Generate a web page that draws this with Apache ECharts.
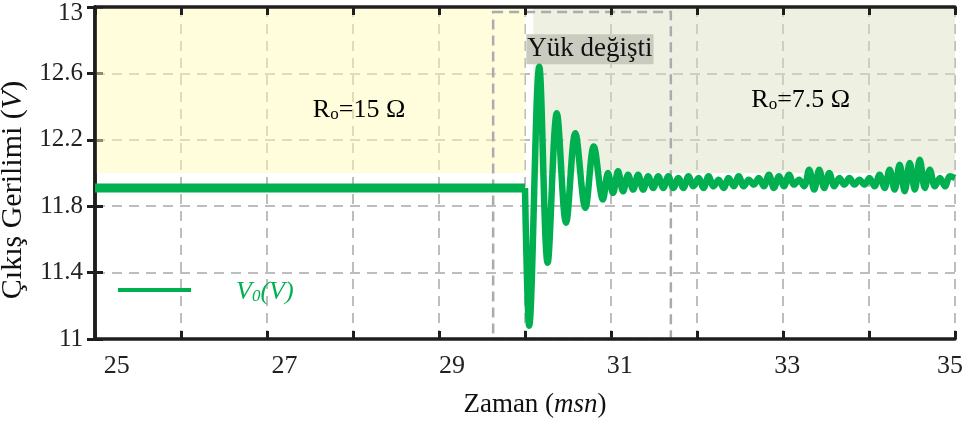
<!DOCTYPE html>
<html>
<head>
<meta charset="utf-8">
<script src="https://cdn.jsdelivr.net/npm/echarts@6.0.0/dist/echarts.min.js"></script>
<style>html,body{margin:0;padding:0;background:#fff}#c{width:963px;height:425px}</style>
</head>
<body>
<div id="c"></div>
<script>
// ---- data ----
const preTime = [24.74, 29.87];
const preVolt = [11.91, 11.91];

const postTime = [29.87, 29.92, 30.04, 30.14, 30.25, 30.36, 30.47, 30.59, 30.69, 30.80,
  30.86, 30.92, 30.98, 31.04, 31.10, 31.16, 31.22, 31.28, 31.34, 31.40,
  31.46, 31.52, 31.58, 31.64, 31.70, 31.76, 31.82, 31.88, 31.94, 32.00,
  32.06, 32.12, 32.18, 32.24, 32.30, 32.36, 32.42, 32.48, 32.54, 32.60,
  32.66, 32.72, 32.78, 32.84, 32.90, 32.96, 33.02, 33.08, 33.14, 33.20,
  33.26, 33.32, 33.38, 33.44, 33.50, 33.56, 33.62, 33.68, 33.74, 33.80,
  33.86, 33.92, 33.98, 34.04, 34.10, 34.16, 34.22, 34.28, 34.34, 34.40,
  34.46, 34.52, 34.58, 34.64, 34.70, 34.76, 34.82, 34.88, 34.94, 35.00];
const postVolt = [11.91, 11.08, 12.64, 11.46, 12.36, 11.70, 12.24, 11.79, 12.16, 11.84,
  12.00, 11.88, 12.01, 11.89, 11.99, 11.90, 11.99, 11.90, 11.98, 11.91,
  11.98, 11.91, 11.98, 11.91, 11.97, 11.91, 11.98, 11.92, 11.97, 11.91,
  11.98, 11.92, 11.96, 11.91, 11.97, 11.92, 11.98, 11.92, 11.96, 11.93,
  11.97, 11.92, 11.99, 11.91, 11.98, 11.92, 11.99, 11.93, 11.96, 11.92,
  12.02, 11.90, 12.02, 11.91, 12.00, 11.92, 11.97, 11.93, 11.97, 11.93,
  11.96, 11.93, 11.97, 11.92, 11.99, 11.91, 12.02, 11.90, 12.05, 11.89,
  12.06, 11.90, 12.08, 11.91, 12.02, 11.92, 11.97, 11.92, 11.98, 11.97];

const xTickLabels = [25, 27, 29, 31, 33, 35];
const xRange = [24.74, 35];
const yRange = [11, 13];
const yInterval = 0.4;
const gridDivisions = [0, 10]; // 10 equal grid divisions across the plot

// regions / annotations (data coordinates)
const region15 = [[24.74, 12.0], [29.87, 13]];
const region75 = [[29.97, 12.0], [35, 13]];
const zoomBox = [[29.49, 12.97], [31.61, 11]];
const labelR15 = [27.89, 12.39];
const labelR75 = [33.16, 12.45];
const labelYuk = [30.645, 12.745];

const zip = (a, b) => a.map((v, i) => [v, b[i]]);
const FONT = "'Liberation Serif', 'Times New Roman', serif";
const GREEN = '#00B050';
const FRAME = '#1e1e1e';

const chart = echarts.init(document.getElementById('c'), null, {renderer: 'canvas'});

const subRich = {
  r: {fontFamily: FONT, fontSize: 26, color: '#000', lineHeight: 30, verticalAlign: 'bottom'},
  s: {fontFamily: FONT, fontSize: 17, color: '#000', lineHeight: 8, verticalAlign: 'bottom'}
};

const option = {
  animation: false,
  backgroundColor: '#fff',
  grid: {left: 95, right: 8, top: 7, bottom: 86, containLabel: false, outerBoundsMode: 'none'},
  legend: {
    data: ['V0(V)'],
    left: 113, top: 274,
    icon: 'rect', itemWidth: 73, itemHeight: 4,
    selectedMode: false,
    formatter: () => '{g|}{i|V}{s|0}{i|(V)}',
    textStyle: {
      color: GREEN,
      rich: {
        g: {width: 40},
        i: {fontFamily: FONT, fontStyle: 'italic', fontSize: 26, color: GREEN, lineHeight: 30, verticalAlign: 'bottom'},
        s: {fontFamily: FONT, fontStyle: 'italic', fontSize: 17, color: GREEN, lineHeight: 14, verticalAlign: 'bottom'}
      }
    }
  },
  xAxis: [
    {
      type: 'value', min: xRange[0], max: xRange[1], position: 'bottom', z: 5,
      axisLine: {show: true, lineStyle: {color: FRAME, width: 3.5}},
      axisTick: {show: false},
      splitLine: {show: false},
      axisLabel: {
        customValues: xTickLabels, fontFamily: FONT, fontSize: 26, color: '#222', margin: 14,
        formatter: v => (v === xRange[1] ? '{e|' + v + '}' : String(v)),
        rich: {e: {fontFamily: FONT, fontSize: 26, color: '#222', padding: [0, 10, 0, 0]}}
      },
      name: '{n|Zaman (}{i|msn}{n|)}', nameLocation: 'middle', nameGap: 52,
      nameTextStyle: {
        padding: [0, 0, 0, 20],
        rich: {
          n: {fontFamily: FONT, fontSize: 27, color: '#111'},
          i: {fontFamily: FONT, fontSize: 27, color: '#111', fontStyle: 'italic'}
        }
      }
    },
    {
      type: 'value', min: gridDivisions[0], max: gridDivisions[1], interval: 1, position: 'bottom', z: 0,
      axisLine: {show: false},
      axisTick: {show: true, inside: true, length: 8, lineStyle: {color: FRAME, width: 3}},
      axisLabel: {show: false},
      splitLine: {show: true, lineStyle: {color: '#BDBDBD', width: 2, type: [10, 7]}}
    },
    {
      type: 'value', min: gridDivisions[0], max: gridDivisions[1], interval: 1, position: 'top', z: 5,
      axisLine: {show: true, lineStyle: {color: FRAME, width: 3.5}},
      axisTick: {show: true, inside: true, length: 8, lineStyle: {color: FRAME, width: 3}},
      axisLabel: {show: false},
      splitLine: {show: false}
    }
  ],
  yAxis: [
    {
      type: 'value', min: yRange[0], max: yRange[1], interval: yInterval, position: 'left', z: 0,
      axisLine: {show: true, lineStyle: {color: FRAME, width: 3.5}},
      axisTick: {show: true, inside: true, length: 8, lineStyle: {color: FRAME, width: 3}},
      axisLabel: {
        fontFamily: FONT, fontSize: 25, color: '#222', margin: 12,
        formatter: v => {
          const s = String(Math.round(v * 10) / 10);
          return v >= yRange[1] ? '{t|' + s + '}' : s;
        },
        rich: {t: {fontFamily: FONT, fontSize: 25, color: '#222', padding: [12, 0, 0, 0]}}
      },
      splitLine: {show: true, lineStyle: {color: '#BDBDBD', width: 2, type: [10, 7]}},
      name: '{n|Çıkış Gerilimi (}{i|V}{n|)}', nameLocation: 'middle', nameGap: 60, nameRotate: 90,
      nameTextStyle: {
        padding: [0, 34, 0, 0],
        rich: {
          n: {fontFamily: FONT, fontSize: 30, color: '#111'},
          i: {fontFamily: FONT, fontSize: 30, color: '#111', fontStyle: 'italic'}
        }
      }
    },
    {
      type: 'value', min: yRange[0], max: yRange[1], interval: yInterval, position: 'right', z: 5,
      axisLine: {show: true, lineStyle: {color: FRAME, width: 3.5}},
      axisTick: {show: true, inside: true, length: 8, lineStyle: {color: FRAME, width: 3}},
      axisLabel: {show: false},
      splitLine: {show: false}
    }
  ],
  series: [
    {
      name: 'bg', type: 'line', data: [], z: 1, silent: true,
      markArea: {
        silent: true,
        data: [
          [{coord: region15[0], itemStyle: {color: 'rgba(255,251,185,0.5)'}}, {coord: region15[1]}],
          [{coord: region75[0], itemStyle: {color: 'rgba(221,227,197,0.5)'}}, {coord: region75[1]}]
        ]
      }
    },
    {
      name: 'box', type: 'line', data: [], z: 3, silent: true,
      markArea: {
        silent: true,
        itemStyle: {color: 'rgba(0,0,0,0)', borderColor: '#ABABAB', borderWidth: 2.5, borderType: [10, 6]},
        data: [[{coord: zoomBox[0]}, {coord: zoomBox[1]}]]
      }
    },
    {
      name: 'V0(V)', type: 'line', data: zip(preTime, preVolt), z: 5,
      showSymbol: false, symbol: 'none',
      lineStyle: {color: GREEN, width: 9, cap: 'butt'},
      itemStyle: {color: GREEN}
    },
    {
      name: 'V0(V)', type: 'line', data: zip(postTime, postVolt), z: 5,
      showSymbol: false, symbol: 'none', smooth: 0.35,
      lineStyle: {color: GREEN, width: 6.5, join: 'round'},
      itemStyle: {color: GREEN}
    },
    {
      name: 'labels', type: 'line', data: [], z: 6, silent: true,
      markPoint: {
        silent: true,
        symbol: 'circle', symbolSize: 1,
        itemStyle: {color: 'rgba(0,0,0,0)'},
        data: [
          {coord: labelR15, label: {show: true, position: 'inside', formatter: '{r|R}{s|o}{r|=15 Ω}', rich: subRich}},
          {coord: labelR75, label: {show: true, position: 'inside', formatter: '{r|R}{s|o}{r|=7.5 Ω}', rich: subRich}},
          {coord: labelYuk, label: {show: true, position: 'inside', formatter: 'Yük değişti',
            fontFamily: FONT, fontSize: 27, color: '#111', backgroundColor: '#C9CBBE', padding: [2, 1, 1, 1]}}
        ]
      }
    }
  ]
};
chart.setOption(option);
</script>
</body>
</html>
